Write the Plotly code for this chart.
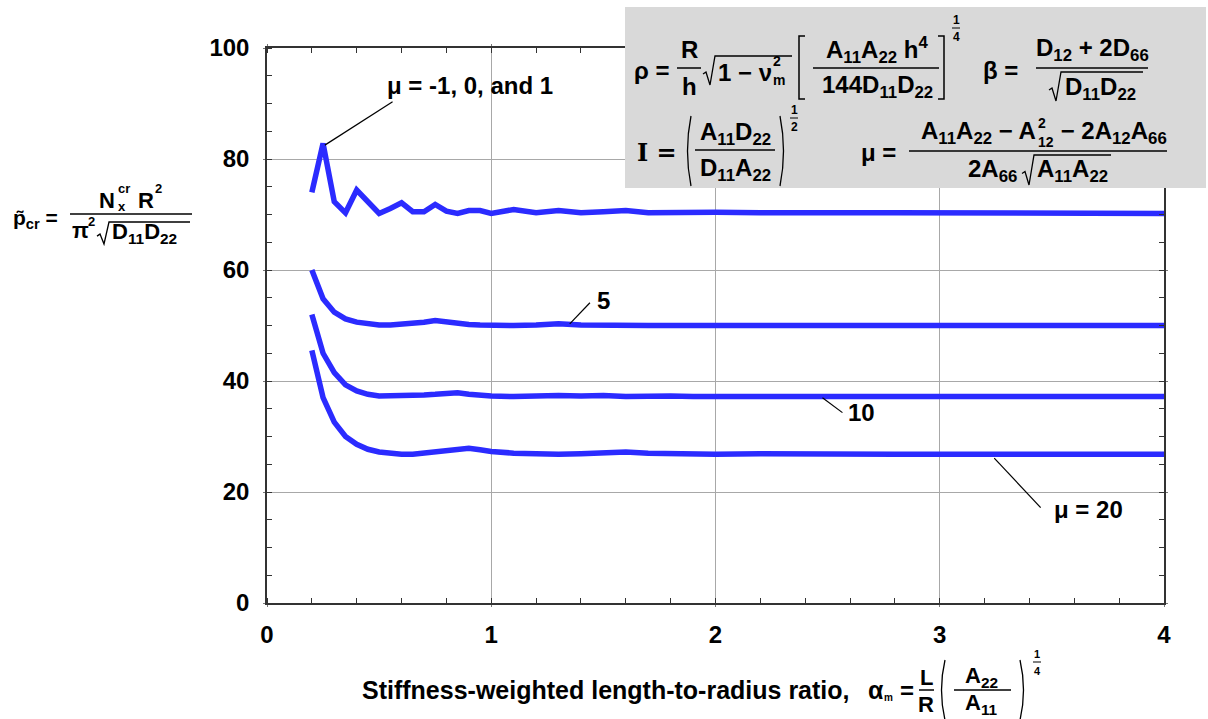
import plotly.graph_objects as go

# ---- data -------------------------------------------------------------
alpha_m = [0.2, 0.25, 0.3, 0.35, 0.4, 0.45, 0.5, 0.55, 0.6, 0.65, 0.7, 0.75,
           0.8, 0.85, 0.9, 0.95, 1.0, 1.1, 1.2, 1.3, 1.4, 1.5, 1.6, 1.7, 1.8,
           1.9, 2.0, 2.2, 2.4, 2.6, 2.8, 3.0, 3.2, 3.4, 3.6, 3.8, 4.0]

p_mu_low = [74.0, 82.8, 72.3, 70.3, 74.4, 72.2, 70.2, 71.1, 72.1, 70.5, 70.5, 71.8,
            70.6, 70.2, 70.7, 70.7, 70.2, 70.9, 70.3, 70.7, 70.3, 70.5, 70.7, 70.3, 70.4,
            70.3, 70.4, 70.3, 70.4, 70.3, 70.3, 70.3, 70.3, 70.2, 70.3, 70.2, 70.2]

p_mu_5 = [60.0, 54.8, 52.4, 51.2, 50.6, 50.3, 50.1, 50.1, 50.2, 50.4, 50.6, 50.9,
          50.6, 50.3, 50.2, 50.1, 50.0, 50.0, 50.1, 50.3, 50.1, 50.0, 50.1, 50.0, 50.0,
          50.0, 50.0, 50.0, 50.0, 50.0, 50.0, 50.0, 50.0, 50.0, 50.0, 50.0, 50.0]

p_mu_10 = [52.0, 45.0, 41.5, 39.3, 38.2, 37.6, 37.3, 37.3, 37.3, 37.4, 37.5, 37.6,
           37.8, 37.9, 37.6, 37.4, 37.3, 37.2, 37.4, 37.4, 37.3, 37.4, 37.2, 37.3, 37.3,
           37.2, 37.2, 37.3, 37.2, 37.2, 37.2, 37.2, 37.2, 37.2, 37.2, 37.2, 37.2]

p_mu_20 = [45.5, 37.0, 32.6, 30.0, 28.6, 27.7, 27.2, 26.9, 26.8, 26.8, 27.0, 27.3,
           27.5, 27.8, 27.9, 27.6, 27.3, 27.0, 26.8, 26.8, 26.9, 27.1, 27.2, 27.0, 26.9,
           26.8, 26.8, 26.9, 26.8, 26.8, 26.8, 26.8, 26.8, 26.8, 26.8, 26.8, 26.8]

series = [p_mu_low, p_mu_5, p_mu_10, p_mu_20]

# ---- page geometry (pixels) -----------------------------------------
W, H = 1208, 719
ML, MR, MT, MB = 267, 44, 48, 116
PW, PH = W - ML - MR, H - MT - MB

FONT = "Liberation Sans, Arial, Helvetica, sans-serif"
BLUE = "#2b2bff"
FS = 24  # formula font size


def px(x):
    return (x - ML) / PW


def py(y):
    return (H - MB - y) / PH


annotations = []
shapes = []


def txt(x, y, s, size=FS, xa="left", ya="middle", family=FONT):
    annotations.append(dict(x=px(x), y=py(y), xref="paper", yref="paper",
                            text="<b>" + s + "</b>", showarrow=False,
                            xanchor=xa, yanchor=ya, borderpad=0,
                            font=dict(family=family, size=size, color="black")))


def seg(x0, y0, x1, y1, w=1.5):
    shapes.append(dict(type="line", xref="paper", yref="paper",
                       x0=px(x0), y0=py(y0), x1=px(x1), y1=py(y1),
                       line=dict(color="black", width=w)))


def path(points, w=1.5, curve=False):
    if curve:
        (a, b), (c, d), (e, f) = points
        p = f"M {px(a)},{py(b)} Q {px(c)},{py(d)} {px(e)},{py(f)}"
    else:
        p = "M " + " L ".join(f"{px(a)},{py(b)}" for a, b in points)
    shapes.append(dict(type="path", xref="paper", yref="paper", path=p,
                       line=dict(color="black", width=w)))


def radical(x0, x1, ytop, ybot, w=1.3):
    ym = ybot - (ybot - ytop) * 0.45
    path([(x0, ym + 2), (x0 + 3, ym), (x0 + 7, ybot), (x0 + 12, ytop), (x1, ytop)], w)


def paren(x, y0, y1, left=True, w=1.3):
    ym = (y0 + y1) / 2
    d = -7 if left else 7
    path([(x, y0), (x + d, ym), (x, y1)], w, curve=True)


def bracket(x, y0, y1, left=True, w=1.5):
    d = 6 if left else -6
    path([(x + d, y0), (x, y0), (x, y1), (x + d, y1)], w)


def small_frac(xc, ytop, num, den, size=12):
    txt(xc, ytop, num, size, xa="center")
    seg(xc - 4, ytop + 8, xc + 4, ytop + 8, 1)
    txt(xc, ytop + 17, den, size, xa="center")


# ---- parameter definitions panel --------------------------------------
shapes.append(dict(type="rect", xref="paper", yref="paper",
                   x0=px(625), x1=px(1206), y0=py(7), y1=py(188),
                   fillcolor="#d9d9d9", line=dict(width=0), layer="above"))

# rho
txt(633, 70, "ρ =")
txt(689, 50, "R", xa="center")
txt(689, 87, "h", xa="center")
seg(677, 68, 701, 68)
radical(703, 792, 56, 85)
txt(717, 72, "1 − ν")
txt(772, 61, "2", 14)
txt(772, 80, "m", 14)
bracket(799, 36, 99, True)
txt(877, 50, "A<sub>11</sub>A<sub>22</sub> h<sup>4</sup>", xa="center")
txt(877, 87, "144D<sub>11</sub>D<sub>22</sub>", xa="center")
seg(813, 68, 939, 68)
bracket(944, 36, 99, False)
small_frac(956, 20, "1", "4")

# beta
txt(982, 70, "β =")
txt(1092, 50, "D<sub>12</sub> + 2D<sub>66</sub>", xa="center")
seg(1036, 68, 1148, 68)
radical(1049, 1143, 72, 101)
txt(1100, 88, "D<sub>11</sub>D<sub>22</sub>", xa="center")

# I
txt(636, 152, "I =", family="DejaVu Serif, serif")
paren(691, 116, 186, True)
txt(735, 133, "A<sub>11</sub>D<sub>22</sub>", xa="center")
seg(695, 150, 775, 150)
txt(735, 169, "D<sub>11</sub>A<sub>22</sub>", xa="center")
paren(780, 116, 186, False)
small_frac(794, 110, "1", "2")

# mu
txt(860, 152, "μ =")
txt(1037, 132, "A<sub>11</sub>A<sub>22</sub> − A", xa="right")
txt(1037, 123, "2", 14)
txt(1037, 142, "12", 14)
txt(1053, 132, " − 2A<sub>12</sub>A<sub>66</sub>")
seg(909, 151, 1167, 151)
txt(967, 170, "2A<sub>66</sub>")
radical(1022, 1111, 155, 185)
txt(1036, 170, "A<sub>11</sub>A<sub>22</sub>")

# ---- y-axis label ------------------------------------------------------
txt(12, 219, "p̃<sub>cr</sub> =", 21)
txt(98, 200, "N", 22)
txt(117, 188, "cr", 13)
txt(117, 206, "x", 13)
txt(137, 200, "R", 22)
txt(154, 189, "2", 13)
seg(70, 214, 192, 214)
txt(71, 231, "π", 22)
txt(87, 221, "2", 13)
radical(97, 190, 222, 244)
txt(111, 233, "D<sub>11</sub>D<sub>22</sub>", 22)

# ---- x-axis title ------------------------------------------------------
txt(361, 690, "Stiffness-weighted length-to-radius ratio,", 25)
txt(867, 690, "α", 25)
txt(883, 697, "m", 10)
txt(899, 690, "=", 24)
txt(926, 677, "L", 22, xa="center")
txt(926, 704, "R", 22, xa="center")
seg(919, 690, 934, 690)
paren(945, 660, 720, True)
txt(981, 677, "A<sub>22</sub>", 22, xa="center")
txt(981, 704, "A<sub>11</sub>", 22, xa="center")
seg(954, 690, 1011, 690)
paren(1020, 660, 720, False)
small_frac(1037, 654, "1", "4", 11)

# ---- curve labels (leader lines in data coordinates) -------------------
leaders = [
    ((0.258, 82.5), (0.56, 90.3), "μ = -1, 0, and 1", (470, 86)),
    ((1.35, 50.3), (1.44, 54.1), "5", (603, 300)),
    ((2.477, 37.0), (2.566, 34.3), "10", (861, 413)),
    ((3.243, 26.1), (3.45, 17.2), "μ = 20", (1088, 510)),
]
for (xa_, ya_), (xb_, yb_), label, (tx, ty) in leaders:
    shapes.append(dict(type="line", xref="x", yref="y", x0=xa_, y0=ya_,
                       x1=xb_, y1=yb_, line=dict(color="black", width=1.2)))
    txt(tx, ty, label, 24, xa="center")

# ---- figure ------------------------------------------------------------
fig = go.Figure()
for ys in series:
    fig.add_trace(go.Scatter(x=alpha_m, y=ys, mode="lines",
                             line=dict(color=BLUE, width=5.5),
                             showlegend=False, hoverinfo="skip"))

axis_common = dict(
    showline=True, linecolor="#333333", linewidth=1.5, mirror="allticks",
    showgrid=True, gridcolor="#a8a8a8", gridwidth=1,
    ticks="outside", ticklen=2, tickcolor="#777777",
    tickfont=dict(family=FONT, size=24, color="black", weight="bold"),
    zeroline=False,
)

fig.update_layout(
    width=W, height=H,
    margin=dict(l=ML, r=MR, t=MT, b=MB),
    plot_bgcolor="white", paper_bgcolor="white",
    xaxis=dict(range=[0, 4], tickvals=[0, 1, 2, 3, 4], ticklabelstandoff=7,
               minor=dict(dtick=0.2, ticks="inside", ticklen=5, tickcolor="#333333",
                          showgrid=False), **axis_common),
    yaxis=dict(range=[0, 100], tickvals=[0, 20, 40, 60, 80, 100], ticklabelstandoff=9,
               minor=dict(dtick=5, ticks="inside", ticklen=5, tickcolor="#333333",
                          showgrid=False), **axis_common),
    annotations=annotations,
    shapes=shapes,
)

fig.write_html("out.html")
